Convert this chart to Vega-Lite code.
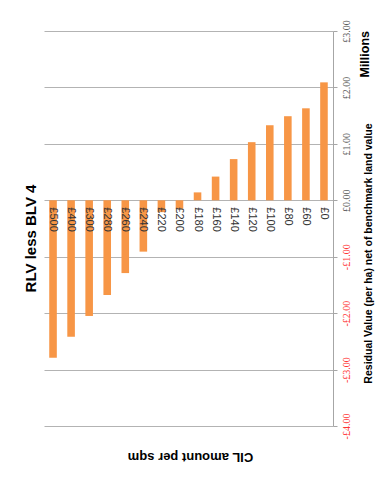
{
  "$schema": "https://vega.github.io/schema/vega-lite/v6.json",
  "autosize": "none",
  "width": 289,
  "height": 395,
  "padding": {"left": 44, "top": 31, "right": 56, "bottom": 54},
  "background": "white",
  "title": {
    "text": "Millions",
    "orient": "right",
    "anchor": "start",
    "angle": -90,
    "align": "right",
    "font": "Liberation Sans",
    "fontSize": 12.5,
    "fontWeight": "bold",
    "color": "#000000",
    "offset": -29,
    "dy": 2,
    "frame": "group"
  },
  "data": {
    "values": [
      {"cil": "£500", "value": -2.79},
      {"cil": "£400", "value": -2.42},
      {"cil": "£300", "value": -2.05},
      {"cil": "£280", "value": -1.68},
      {"cil": "£260", "value": -1.29},
      {"cil": "£240", "value": -0.91},
      {"cil": "£220", "value": -0.21},
      {"cil": "£200", "value": -0.15},
      {"cil": "£180", "value": 0.14},
      {"cil": "£160", "value": 0.42},
      {"cil": "£140", "value": 0.73},
      {"cil": "£120", "value": 1.03},
      {"cil": "£100", "value": 1.33},
      {"cil": "£80", "value": 1.49},
      {"cil": "£60", "value": 1.63},
      {"cil": "£0", "value": 2.09}
    ]
  },
  "encoding": {
    "x": {
      "field": "cil",
      "type": "nominal",
      "sort": null,
      "scale": {"paddingInner": 0.58, "paddingOuter": 0.29},
      "axis": {
        "orient": "bottom",
        "offset": -226,
        "domain": false,
        "ticks": false,
        "grid": false,
        "labels": false,
        "title": "CIL amount per sqm",
        "titleAngle": 180,
        "titleFont": "Liberation Sans",
        "titleFontSize": 13,
        "titleFontWeight": "bold",
        "titleColor": "#000000",
        "titleX": 146,
        "titleY": 256,
        "titleAlign": "center",
        "titleBaseline": "middle"
      }
    }
  },
  "layer": [
    {
      "mark": {"type": "bar", "color": "#F79646"},
      "encoding": {
        "y": {
          "field": "value",
          "type": "quantitative",
          "scale": {"domain": [-4, 3], "nice": false, "zero": false},
          "axis": {
            "orient": "right",
            "values": [-4, -3, -2, -1, 0, 1, 2, 3],
            "grid": true,
            "gridColor": "#B3B3B3",
            "gridWidth": 1,
            "domain": true,
            "domainColor": "#A6A6A6",
            "ticks": true,
            "tickColor": "#A6A6A6",
            "tickSize": 4,
            "labelAngle": -90,
            "labelAlign": "center",
            "labelBaseline": "top",
            "labelPadding": 4,
            "labelFont": "Liberation Sans Narrow",
            "labelFontSize": 10,
            "labelColor": {"condition": {"test": "datum.value < 0", "value": "#FF3333"}, "value": "#595959"},
            "labelExpr": "datum.value < 0 ? '-£' + format(-datum.value, '.2f') : '£' + format(datum.value, '.2f')",
            "title": "Residual Value (per ha)  net of benchmark land value",
            "titleAngle": -90,
            "titleFont": "Liberation Sans",
            "titleFontSize": 10.5,
            "titleFontWeight": "bold",
            "titleColor": "#000000",
            "titleX": 35,
            "titleY": 222,
            "titleAlign": "center",
            "titleBaseline": "middle"
          }
        }
      }
    },
    {
      "mark": {"type": "bar", "opacity": 0},
      "encoding": {
        "y": {
          "field": "value",
          "type": "quantitative",
          "axis": {
            "orient": "left",
            "labels": false,
            "ticks": false,
            "domain": false,
            "grid": false,
            "title": "RLV less BLV 4",
            "titleAngle": -90,
            "titleFont": "Liberation Sans",
            "titleFontSize": 15,
            "titleFontWeight": "bold",
            "titleColor": "#000000",
            "titleX": -14,
            "titleY": 207,
            "titleAlign": "center",
            "titleBaseline": "middle"
          }
        }
      }
    },
    {
      "mark": {
        "type": "text",
        "angle": 90,
        "align": "left",
        "baseline": "middle",
        "dx": 7,
        "font": "Liberation Sans",
        "fontSize": 11,
        "color": "#333333"
      },
      "encoding": {
        "y": {"datum": 0, "type": "quantitative", "axis": null},
        "text": {"field": "cil", "type": "nominal"}
      }
    }
  ],
  "resolve": {"axis": {"y": "independent"}},
  "config": {"view": {"stroke": null}}
}
